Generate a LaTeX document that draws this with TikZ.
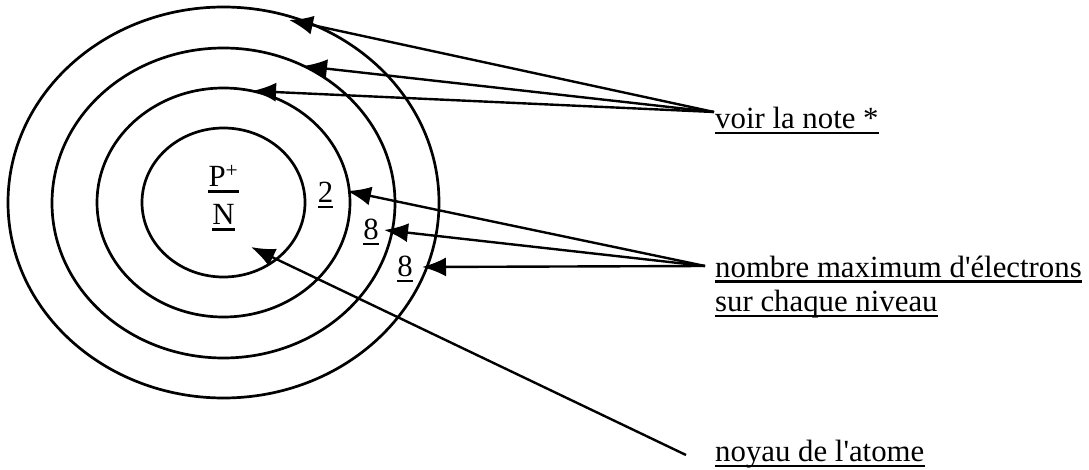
\documentclass[tikz,border=0pt]{standalone}
\usepackage{fontspec}
\setmainfont{Liberation Serif}
\usetikzlibrary{arrows.meta, math}

\tikzset{
  lbl/.style={inner sep=0pt, font=\fontsize{30.8}{35}\selectfont},
  shell/.style={line width=2.7pt},
  pointer/.style={line width=2.4pt, -{Latex[length=24pt,width=19pt]}},
}
\newcommand{\ulabel}[1]{\draw[line width=2.2pt] ([yshift=-4.5pt]#1.base west) -- ([yshift=-4.5pt]#1.base east);}

\begin{document}
\begin{tikzpicture}[x=1pt, y=-1pt]
\tikzmath{
\cx = 223.5;
\cy = 202.5;
}
\useasboundingbox (0,0) rectangle (1089,470);

% couches electroniques
\draw[shell] (\cx,\cy) ellipse (81.5 and 74.5);
\draw[shell] (\cx,\cy) ellipse (126.5 and 114.5);
\draw[shell] (\cx,\cy+0.5) ellipse (171.5 and 155);
\draw[shell] (\cx,\cy) ellipse (215.5 and 195.5);

% noyau
\node[lbl, anchor=base] (prot) at (\cx,187) {P\textsuperscript{+}};
\node[lbl, anchor=base] (neut) at (\cx,225) {N};
\ulabel{prot}
\ulabel{neut}

% nombres d'electrons
\node[lbl, anchor=base] (k) at (325.5,202.5) {2};
\node[lbl, anchor=base] (l) at (371,239.5) {8};
\node[lbl, anchor=base] (m) at (405,276.5) {8};
\ulabel{k}
\ulabel{l}
\ulabel{m}

% legendes
\node[lbl, anchor=base west] (note) at (715,128.5) {voir la note *};
\node[lbl, anchor=base west] (max) at (715,277) {nombre maximum d\textquotesingle électrons};
\node[lbl, anchor=base west] (niv) at (715,311.5) {sur chaque niveau};
\node[lbl, anchor=base west] (noyau) at (715,461.5) {noyau de l\textquotesingle atome};
\ulabel{note}
\ulabel{max}
\ulabel{niv}
\ulabel{noyau}

\coordinate (srcnote) at (714,112);
\coordinate (srcmax) at (705,266);
\coordinate (srcnoy) at (686,455);

\coordinate (t1) at (289,20);
\coordinate (t2) at (303,66);
\coordinate (t3) at (252,91);
\coordinate (tk) at (347,191);
\coordinate (tl) at (384,230);
\coordinate (tm) at (422,267);
\coordinate (tn) at (251,247);

\draw[pointer] (srcnote) -- (t1);
\draw[pointer] (srcnote) -- (t2);
\draw[pointer] (srcnote) -- (t3);
\draw[pointer] (srcmax) -- (tk);
\draw[pointer] (srcmax) -- (tl);
\draw[pointer] (srcmax) -- (tm);
\draw[pointer] (srcnoy) -- (tn);

\end{tikzpicture}
\end{document}
